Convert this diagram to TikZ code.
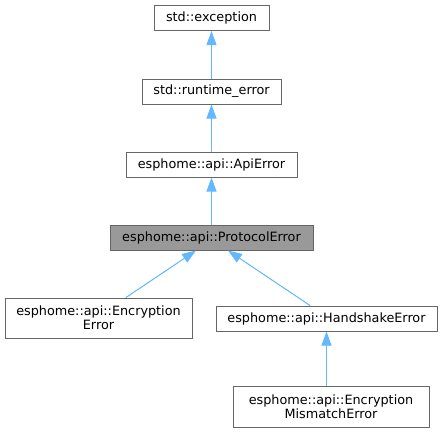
\documentclass[tikz,border=0pt]{standalone}
\usepackage{fontspec}
\setmainfont{DejaVu Sans}
\usepackage{tikz}
\usetikzlibrary{arrows.meta, positioning, calc}
\usepackage{xcolor}
\definecolor{edgeblue}{HTML}{63B8FF}
\definecolor{boxgray}{HTML}{666666}
\definecolor{curgray}{HTML}{999999}

\begin{document}
\begin{tikzpicture}[
    x=1pt, y=-1pt,
    cls/.style={draw=boxgray, line width=1pt, fill=white, inner sep=0pt, align=center, font=\fontsize{12.8}{14}\selectfont},
    cur/.style={cls, fill=curgray},
    arr/.style={{Triangle[length=14pt, width=10pt]}-, draw=edgeblue, fill=edgeblue, line width=1pt}
]
\useasboundingbox (0,0) rectangle (443,432);

\node[cls, minimum width=115pt, minimum height=25pt] (exc) at (211.5,18) {std::exception};
\node[cls, minimum width=139pt, minimum height=25pt] (rt) at (211.5,91.5) {std::runtime\_error};
\node[cls, minimum width=171pt, minimum height=25pt] (api) at (211.5,164.5) {esphome::api::ApiError};
\node[cur, minimum width=203pt, minimum height=25pt] (proto) at (211.5,237.5) {esphome::api::ProtocolError};

\node[cls, minimum width=187pt, minimum height=40pt] (enc) at (98.5,318) {esphome::api::Encryption\\Error};
\node[cls, minimum width=221pt, minimum height=25pt] (hs) at (326.5,318.5) {esphome::api::HandshakeError};
\node[cls, minimum width=196pt, minimum height=41pt] (mm) at (331,406.5) {esphome::api::Encryption\\MismatchError};

\draw[arr] (exc) -- (rt);
\draw[arr] (rt) -- (api);
\draw[arr] (api) -- (proto);
\draw[arr] ($(proto.south)+(-15.5,0)$) -- ($(enc.north)+(27.5,0)$);
\draw[arr] ($(proto.south)+(16.5,0)$) -- ($(hs.north)+(-16.5,0)$);
\draw[arr] (hs.south) -- (hs.south |- mm.north);
\end{tikzpicture}
\end{document}
